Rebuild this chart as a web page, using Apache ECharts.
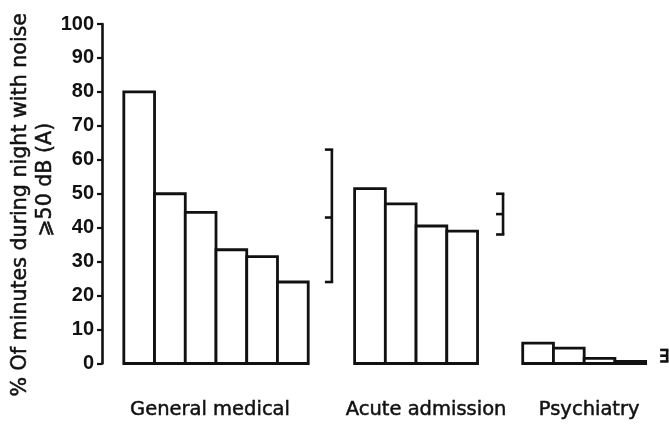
<!DOCTYPE html>
<html>
<head>
<meta charset="utf-8">
<script src="https://cdn.jsdelivr.net/npm/echarts@6/dist/echarts.min.js"></script>
<style>
  html, body { margin: 0; padding: 0; background: #fff; }
  #chart { width: 669px; height: 424px; }
</style>
</head>
<body>
<div id="chart"></div>
<script>
// ---- data ----
const categories = ['General medical', 'Acute admission', 'Psychiatry'];
const generalMedical = [80, 50, 44.5, 33.5, 31.5, 24];
const acuteAdmission = [51.5, 47, 40.5, 39];
const psychiatry = [6, 4.5, 1.5, 0.6];
const rangeLow = [24, 38, 0.6];
const rangeMid = [43, 44, 2.3];
const rangeHigh = [63, 50, 4.0];
const yMin = 0, yMax = 100, yStep = 10;
const yAxisNameLine1 = '% Of minutes during night with noise';
const yAxisNameLine2 = '\u2A7E50 dB (A)';

// ---- layout (not data) ----
const groupStart = [0.71, 8.22, 13.69];   // in bar-width units
const bracketX = [7.48, 13.05, 18.39];
const labelOffsetPx = [-6, 10, 5];
const xMaxUnits = 18.45;
const INK = '#111';

const groups = [generalMedical, acuteAdmission, psychiatry];
const barData = [];
groups.forEach((vals, g) => vals.forEach((v, b) => barData.push([g, b, v])));
const bracketData = categories.map((c, g) => [g, rangeLow[g], rangeMid[g], rangeHigh[g]]);
const labelData = categories.map((c, g) => [g, c]);

const chart = echarts.init(document.getElementById('chart'), null, { renderer: 'canvas' });
chart.setOption({
  backgroundColor: '#fff',
  animation: false,
  grid: { left: 102, right: 0, top: 24, bottom: 60.5, containLabel: false, outerBoundsMode: 'none' },
  xAxis: {
    type: 'value', min: 0, max: xMaxUnits, show: false
  },
  yAxis: {
    type: 'value', min: yMin, max: yMax, interval: yStep,
    splitLine: { show: false },
    axisLine: { show: true, lineStyle: { color: INK, width: 2.6 } },
    axisTick: { show: true, inside: false, length: 5, lineStyle: { color: INK, width: 2.2 } },
    axisLabel: { color: INK, fontFamily: 'Liberation Sans', fontWeight: 'bold', fontSize: 20, margin: 8 },
    name: '{a|' + yAxisNameLine1 + '}\n{b|' + yAxisNameLine2 + '}',
    nameLocation: 'middle',
    nameRotate: 90,
    nameGap: 44,
    nameMoveOverlap: false,
    nameTextStyle: {
      color: INK, fontFamily: 'DejaVu Sans', fontSize: 20.6, lineHeight: 25, align: 'center',
      textBorderColor: INK, textBorderWidth: 0.5,
      rich: {
        a: { color: INK, fontFamily: 'DejaVu Sans', fontSize: 20.6, lineHeight: 25,
             textBorderColor: INK, textBorderWidth: 0.5, padding: [0, 22, 0, 0] },
        b: { color: INK, fontFamily: 'DejaVu Sans', fontSize: 20.6, lineHeight: 25,
             textBorderColor: INK, textBorderWidth: 0.5, padding: [0, 0, 0, 28] }
      }
    }
  },
  series: [
    {
      type: 'custom',
      clip: false,
      data: barData,
      encode: { x: 1, y: 2 },
      renderItem: function (params, api) {
        const g = api.value(0), b = api.value(1), v = api.value(2);
        const x0 = groupStart[g] + b;
        const p1 = api.coord([x0, v]);
        const p2 = api.coord([x0 + 1, 0]);
        return {
          type: 'rect',
          shape: { x: p1[0], y: p1[1], width: p2[0] - p1[0], height: p2[1] - p1[1] },
          style: { fill: '#fff', stroke: INK, lineWidth: 2.8 }
        };
      }
    },
    {
      type: 'custom',
      clip: false,
      data: bracketData,
      encode: { y: [1, 3] },
      renderItem: function (params, api) {
        const g = api.value(0);
        const x = bracketX[g];
        const lo = api.coord([x, api.value(1)]);
        const mid = api.coord([x, api.value(2)]);
        const hi = api.coord([x, api.value(3)]);
        const serif = 7;
        const st = { stroke: INK, lineWidth: 2.6 };
        return {
          type: 'group',
          children: [
            { type: 'line', shape: { x1: hi[0], y1: hi[1], x2: lo[0], y2: lo[1] }, style: st },
            { type: 'line', shape: { x1: hi[0] - serif, y1: hi[1], x2: hi[0] + 1.3, y2: hi[1] }, style: st },
            { type: 'line', shape: { x1: mid[0] - serif, y1: mid[1], x2: mid[0], y2: mid[1] }, style: st },
            { type: 'line', shape: { x1: lo[0] - serif, y1: lo[1], x2: lo[0] + 1.3, y2: lo[1] }, style: st }
          ]
        };
      }
    },
    {
      type: 'custom',
      clip: false,
      data: labelData,
      renderItem: function (params, api) {
        const g = params.dataIndex;
        const n = groups[g].length;
        const p = api.coord([groupStart[g] + n / 2, 0]);
        return {
          type: 'text',
          x: p[0] + labelOffsetPx[g],
          y: p[1] + 46,
          style: {
            text: categories[g],
            fill: INK,
            stroke: INK,
            lineWidth: 0.5,
            font: '19.5px "DejaVu Sans"',
            align: 'center',
            verticalAlign: 'middle'
          }
        };
      }
    }
  ]
});
</script>
</body>
</html>
